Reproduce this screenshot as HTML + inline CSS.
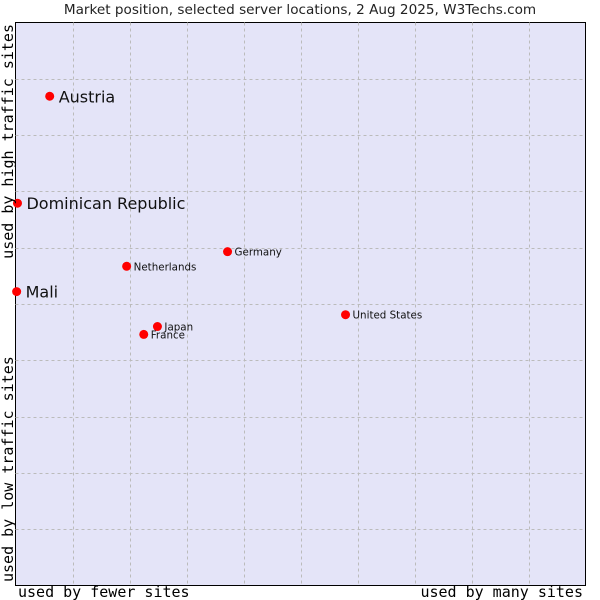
<!DOCTYPE html>
<html><head><meta charset="utf-8"><style>
body{margin:0;background:#fff;width:600px;height:600px;overflow:hidden}
svg{display:block}
</style></head><body>
<svg id="chart" width="600" height="600" xmlns="http://www.w3.org/2000/svg">
<text x="300" y="14" text-anchor="middle" font-family="DejaVu Sans, sans-serif" font-size="13.6" fill="#222">Market position, selected server locations, 2 Aug 2025, W3Techs.com</text>
<rect x="15.5" y="22.5" width="570" height="563" fill="#e4e4f8" stroke="#000" stroke-width="1"/>
<g id="grid"></g>
<g id="points"></g>
<text x="18" y="597" font-family="DejaVu Sans Mono, monospace" font-size="15" fill="#000">used by fewer sites</text>
<text x="583" y="597" text-anchor="end" font-family="DejaVu Sans Mono, monospace" font-size="15" fill="#000">used by many sites</text>
<text transform="translate(13,24) rotate(-90)" text-anchor="end" font-family="DejaVu Sans Mono, monospace" font-size="15" fill="#000">used by high traffic sites</text>
<text transform="translate(13,582) rotate(-90)" font-family="DejaVu Sans Mono, monospace" font-size="15" fill="#000">used by low traffic sites</text>
</svg>
<script>
const names = ["Austria","Dominican Republic","Mali","Germany","Netherlands","United States","Japan","France"];
const xValues = [0.6,0.035,0.02,3.72,1.95,5.79,2.49,2.25];
const yValues = [8.69,6.79,5.22,5.93,5.67,4.81,4.60,4.46];
const bigLabel = [true,true,true,false,false,false,false,false];
const gridTicks = [1,2,3,4,5,6,7,8,9];
const NS="http://www.w3.org/2000/svg";
const L=15.5,T=22.5,W=570,H=563;
const sx=v=>L+v/10*W, sy=v=>T+H-v/10*H;
const grid=document.getElementById('grid'), pts=document.getElementById('points');
gridTicks.forEach(t=>{
  const v=document.createElementNS(NS,'line');
  
  
  const x=Math.round(sx(t))+0.5;
  v.setAttribute('x1',x);v.setAttribute('x2',x);v.setAttribute('y1',T);v.setAttribute('y2',T+H);
  v.setAttribute('stroke','#bbb');v.setAttribute('stroke-dasharray','3,3');
  grid.appendChild(v);
  const h=document.createElementNS(NS,'line');
  
  
  const y=Math.round(sy(t))+0.5;
  h.setAttribute('x1',L);h.setAttribute('x2',L+W);h.setAttribute('y1',y);h.setAttribute('y2',y);
  h.setAttribute('stroke','#bbb');h.setAttribute('stroke-dasharray','3,3');
  grid.appendChild(h);
});
names.forEach((n,i)=>{
  const x=sx(xValues[i]), y=sy(yValues[i]);
  const c=document.createElementNS(NS,'circle');
  
  
  c.setAttribute('cx',x);c.setAttribute('cy',y);c.setAttribute('r',4.5);c.setAttribute('fill','#f00');
  pts.appendChild(c);
  const t=document.createElementNS(NS,'text');
  
  
  t.setAttribute('x',x+(bigLabel[i]?9:7));
  t.setAttribute('y',y+(bigLabel[i]?6:4));
  t.setAttribute('font-family','DejaVu Sans, sans-serif');
  t.setAttribute('font-size',bigLabel[i]?16:10.3);
  t.setAttribute('fill','#111');
  t.textContent=n;
  pts.appendChild(t);
});
</script>
</body></html>
